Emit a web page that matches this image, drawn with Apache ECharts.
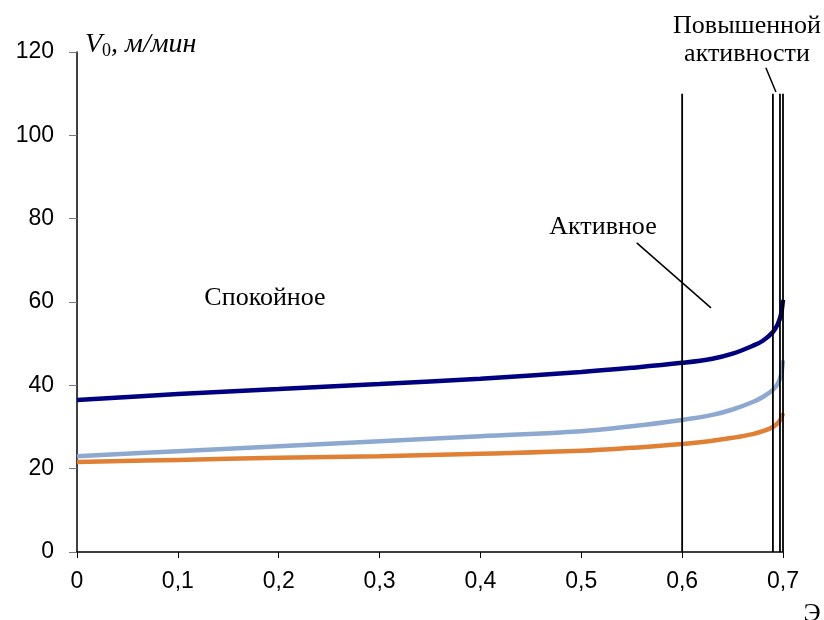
<!DOCTYPE html>
<html><head><meta charset="utf-8">
<script src="https://cdn.jsdelivr.net/npm/echarts@6/dist/echarts.min.js"></script>
<style>html,body{margin:0;padding:0;background:#fff}#c{width:824px;height:620px}</style>
</head><body><div id="c"></div>
<script>
const xValues   = [0, 0.1, 0.2, 0.3, 0.4, 0.5, 0.55, 0.6, 0.63, 0.65, 0.67, 0.68, 0.69, 0.695, 0.698, 0.7];
const navySeries  = [36.5, 37.9, 39.1, 40.3, 41.6, 43.2, 44.2, 45.4, 46.4, 47.6, 49.5, 50.7, 52.8, 54.8, 57.0, 60.5];
const lightSeries = [23.0, 24.2, 25.4, 26.6, 27.8, 29.0, 30.2, 31.7, 32.9, 34.2, 36.0, 37.2, 38.9, 40.5, 42.5, 46.0];
const orangeSeries= [21.6, 22.1, 22.6, 23.0, 23.6, 24.3, 25.0, 25.9, 26.7, 27.4, 28.3, 29.0, 30.0, 31.0, 32.0, 33.3];
const boundaryX = [0.6, 0.69, 0.697, 0.7];
const boundaryTop = 110;
const leader1 = [[0.555, 74.2], [0.6286, 58.6]];
const leader2 = [[0.683, 116.2], [0.693, 110.4]];
const yTicks = [0, 20, 40, 60, 80, 100, 120];
const xTicks = [0, 0.1, 0.2, 0.3, 0.4, 0.5, 0.6, 0.7];

const chart = echarts.init(document.getElementById('c'), null, {renderer:'canvas'});
const zip = arr => xValues.map((x,i)=>[x, arr[i]]);
const series = [];
const curves = [[navySeries,'#000080'],[lightSeries,'#8EA9D0'],[orangeSeries,'#DF8035']];
curves.forEach(([d,c])=>series.push({type:'line', data:zip(d), smooth:0.4, showSymbol:false, lineStyle:{color:c,width:4.5}, z:3, clip:false, animation:false}));
boundaryX.forEach(x=>series.push({type:'line', data:[[x,0],[x,boundaryTop]], showSymbol:false, lineStyle:{color:'#000',width:1.8}, z:4, clip:false, animation:false}));
[leader1, leader2].forEach(l=>series.push({type:'line', data:l, showSymbol:false, lineStyle:{color:'#000',width:1.5}, z:4, clip:false, animation:false}));

const fmtX = v => v===0 ? '0' : v.toFixed(1).replace('.', ',');
const serif = '26px "Liberation Serif"';
chart.setOption({
  animation:false,
  grid:{left:77, top:52, width:706, height:500},
  xAxis:{type:'value', min:0, max:0.7, interval:0.1,
    axisLine:{lineStyle:{color:'#000',width:1.5}},
    axisTick:{show:true, inside:false, length:6, lineStyle:{color:'#000'}},
    axisLabel:{formatter:fmtX, fontFamily:'Liberation Sans', fontSize:23, color:'#000', margin:18},
    splitLine:{show:false}},
  yAxis:{type:'value', min:0, max:120, interval:20,
    axisLine:{show:true, lineStyle:{color:'#000',width:1.5}},
    axisTick:{show:true, length:8, lineStyle:{color:'#777'}},
    axisLabel:{fontFamily:'Liberation Sans', fontSize:23, color:'#000', margin:23},
    splitLine:{show:false}},
  series:series,
  graphic:[
    {type:'text', left:85, top:31, style:{rich:{v:{fontFamily:'Liberation Serif',fontStyle:'italic',fontSize:28,fill:'#000'}, s:{fontFamily:'Liberation Serif',fontSize:18,fill:'#000',padding:[12,0,0,0]}, u:{fontFamily:'Liberation Serif',fontStyle:'italic',fontSize:28,fill:'#000'}}, text:'{v|V}{s|0}{u|, м/мин}'}},
    {type:'text', x:265, y:298, style:{text:'Спокойное', font:serif, fill:'#000', textAlign:'center', textVerticalAlign:'middle'}},
    {type:'text', x:603, y:227, style:{text:'Активное', font:serif, fill:'#000', textAlign:'center', textVerticalAlign:'middle'}},
    {type:'text', x:747, y:26, style:{text:'Повышенной', font:serif, fill:'#000', textAlign:'center', textVerticalAlign:'middle'}},
    {type:'text', x:747, y:54, style:{text:'активности', font:serif, fill:'#000', textAlign:'center', textVerticalAlign:'middle'}},
    {type:'text', x:812, y:614, style:{text:'Э', font:serif, fill:'#000', textAlign:'center', textVerticalAlign:'middle'}}
  ]
});
</script></body></html>
